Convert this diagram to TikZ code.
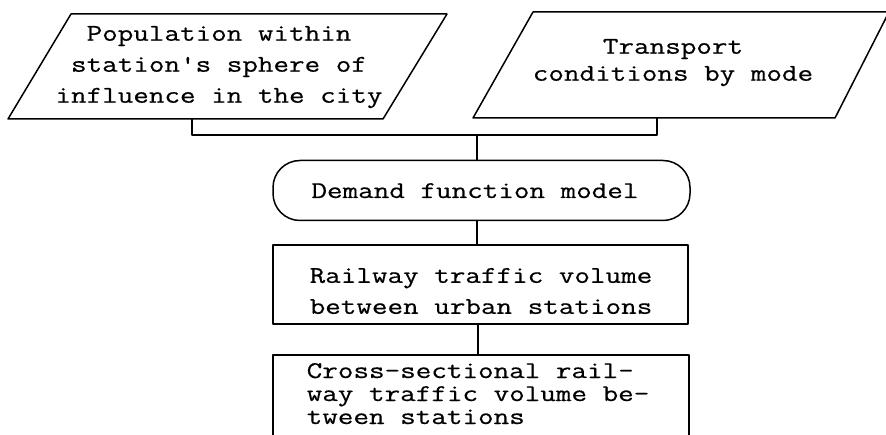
\documentclass[tikz,border=0pt]{standalone}
\usepackage{fontspec}
\newfontfamily\tw{Latin Modern Mono}[FakeStretch=1.26,FakeBold=0.5]
\begin{document}
\begin{tikzpicture}[x=1pt,y=-1pt,line width=1.5pt,line join=round,
  txt/.style={inner sep=0pt,font=\tw\fontsize{24}{31}\selectfont,align=center},
  flowbox/.style={draw,rectangle,inner sep=0pt,minimum width=#1},
  terminal/.style={draw,rectangle,rounded corners=27pt,inner sep=0pt,
    minimum width=417pt,minimum height=60pt}]
\useasboundingbox (0,0) rectangle (886,435);

% input data: population (left parallelogram)
\coordinate (popBL) at (8,119);
\coordinate (popTL) at (71,14);
\coordinate (popTR) at (447,14);
\coordinate (popBR) at (383,119);
\draw (popBL) -- (popTL) -- (popTR) -- (popBR) -- cycle;
\node[txt,anchor=north] (poptxt) at (219,25.3)
  {Population within\\station's sphere of\\influence in the city};

% input data: transport conditions (right parallelogram)
\coordinate (traBL) at (473,118);
\coordinate (traTL) at (533,12);
\coordinate (traTR) at (889,12);
\coordinate (traBR) at (835,118);
\draw (traBL) -- (traTL) -- (traTR) -- (traBR) -- cycle;
\node[txt,anchor=north,font=\tw\fontsize{24}{27}\selectfont] (tratxt) at (673,38.3)
  {Transport\\conditions by mode};

% process chain
\node[terminal] (demand) at (481.5,190.5) {};
\node[txt,anchor=base] (demandtxt) at (475,198) {Demand function model};
\node[flowbox=415pt,minimum height=79pt] (rail) at (480.5,284.5) {};
\node[txt,anchor=north] (railtxt) at (481,267.3)
  {Railway traffic volume\\between urban stations};
\node[flowbox=416pt,minimum height=115pt] (cross) at (481,412.5) {};
\node[txt,anchor=north west,align=left,font=\tw\fontsize{24}{23}\selectfont] (crosstxt) at (306,362.3)
  {Cross-sectional rail-\\way traffic volume be-\\tween stations};

% connectors
\coordinate (popOut) at (192,119);
\coordinate (traOut) at (657,118);
\coordinate (merge) at (477,135);
\draw (popOut) -- (popOut |- merge) -- (traOut |- merge) -- (traOut);
\draw (merge) -- (merge |- demand.north);
\draw (merge |- demand.south) -- (merge |- rail.north);
\draw ([xshift=1pt]merge |- rail.south) -- ([xshift=1pt]merge |- cross.north);
\end{tikzpicture}
\end{document}
